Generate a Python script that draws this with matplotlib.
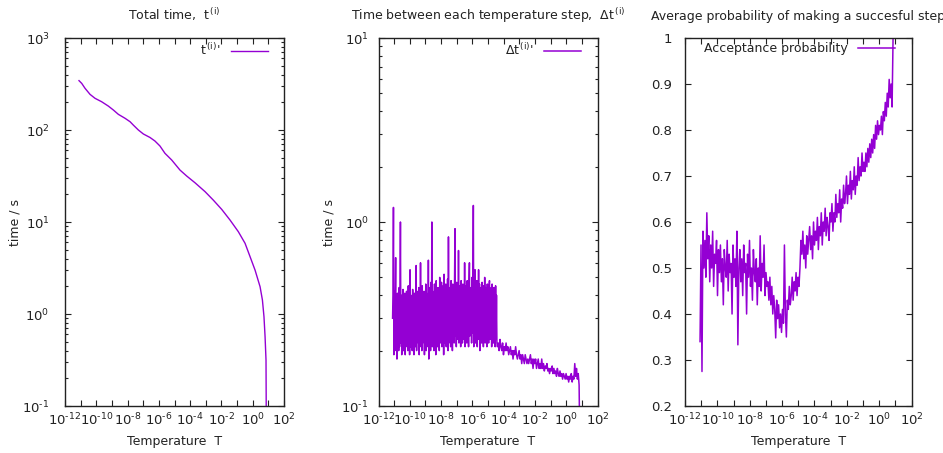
import numpy as np
import matplotlib
matplotlib.use("Agg")
import matplotlib.pyplot as plt
from matplotlib.ticker import LogLocator, FuncFormatter, NullLocator, MultipleLocator, NullFormatter

plt.rcParams['font.family'] = ['DejaVu Sans']
plt.rcParams['font.size'] = 9

# ---------------- data ----------------
# Panel 1: total time t(i) vs temperature (log10 T, seconds)
total_logT = [-11.105, -10.93, -10.72, -10.40, -10.08, -9.66, -9.23, -8.91, -8.59, -8.16,
              -7.84, -7.63, -7.31, -6.99, -6.57, -6.25, -5.93, -5.61, -5.18, -4.65,
              -4.22, -3.69, -3.05, -2.52, -1.98, -1.45, -0.92, -0.49, -0.17, 0.15,
              0.47, 0.62, 0.72, 0.79, 0.85, 0.89]
total_time = [344, 321, 284, 244, 221, 203, 182, 165, 148, 134,
              123, 113, 100, 90.5, 83, 75.9, 67, 55.8, 47.2, 36.7,
              31.6, 26.7, 21.4, 17.3, 13.7, 10.5, 7.85, 5.87, 4.2, 3.0,
              1.98, 1.42, 0.935, 0.566, 0.316, 0.01]

# Panel 2: time between temperature steps (geometric cooling schedule)
# noisy low-temperature part
step_noisy_logT_range = (-11.10, -4.43)
step_time_noisy = [
    0.30, 0.40, 1.20, 0.19, 0.42, 0.22, 0.38, 0.64, 0.20, 0.36,
    0.18, 0.41, 0.23, 0.39, 0.20, 0.44, 0.21, 0.37, 1.00, 0.22,
    0.40, 0.19, 0.35, 0.24, 0.43, 0.20, 0.38, 0.22, 0.41, 0.19,
    0.36, 0.23, 0.42, 0.21, 0.39, 0.20, 0.45, 0.22, 0.37, 0.19,
    0.55, 0.21, 0.40, 0.24, 0.38, 0.20, 0.43, 0.22, 0.36, 0.19,
    0.41, 0.23, 0.39, 0.21, 0.58, 0.20, 0.42, 0.24, 0.37, 0.22,
    0.44, 0.19, 0.40, 0.23, 0.60, 0.21, 0.38, 0.20, 0.45, 0.22,
    0.39, 0.24, 0.42, 0.19, 0.37, 0.22, 0.46, 0.20, 0.41, 0.23,
    0.38, 0.21, 0.62, 0.18, 0.44, 0.22, 0.40, 0.20, 0.47, 0.23,
    1.00, 0.21, 0.42, 0.24, 0.39, 0.20, 0.46, 0.22, 0.41, 0.19,
    0.48, 0.23, 0.40, 0.21, 0.44, 0.25, 0.38, 0.20, 0.50, 0.22,
    0.43, 0.24, 0.47, 0.21, 0.40, 0.23, 0.45, 0.19, 0.52, 0.22,
    0.42, 0.25, 0.46, 0.21, 0.40, 0.23, 0.49, 0.20, 0.83, 0.22,
    0.44, 0.24, 0.41, 0.21, 0.48, 0.25, 0.43, 0.20, 0.46, 0.23,
    0.40, 0.22, 0.50, 0.92, 0.24, 0.44, 0.21, 0.47, 0.26, 0.42,
    0.23, 0.70, 0.22, 0.45, 0.25, 0.41, 0.21, 0.48, 0.24, 0.43,
    0.22, 0.46, 0.26, 0.42, 0.23, 0.60, 0.21, 0.45, 0.25, 0.40,
    0.22, 0.48, 0.27, 0.43, 0.21, 0.46, 0.60, 0.24, 0.44, 0.26,
    0.41, 0.22, 0.50, 0.25, 0.45, 1.23, 0.21, 0.47, 0.24, 0.55,
    0.22, 0.44, 0.26, 0.48, 0.21, 0.42, 0.25, 0.55, 0.23, 0.46,
    0.20, 0.44, 0.26, 0.41, 0.22, 0.47, 0.24, 0.43, 0.21, 0.45,
    0.25, 0.50, 0.22, 0.44, 0.27, 0.42, 0.21, 0.46, 0.24, 0.43,
    0.22, 0.45, 0.48, 0.23, 0.42, 0.26, 0.44, 0.21, 0.46, 0.25,
    0.41, 0.22, 0.44, 0.24, 0.43, 0.21, 0.45, 0.23, 0.40, 0.22,
]
# smoother high-temperature part
step_tail_logT_range = (-4.40, 0.88)
step_time_tail = [
    0.21, 0.22, 0.20, 0.23, 0.21, 0.20, 0.22, 0.19, 0.21, 0.20, 0.22, 0.20,
    0.21, 0.19, 0.20, 0.21, 0.19, 0.20, 0.18, 0.20, 0.19, 0.21, 0.19, 0.18,
    0.19, 0.20, 0.18, 0.19, 0.17, 0.19, 0.18, 0.17, 0.19, 0.18, 0.17, 0.18,
    0.17, 0.18, 0.19, 0.17, 0.18, 0.16, 0.18, 0.17, 0.18, 0.16, 0.17, 0.18,
    0.16, 0.17, 0.16, 0.18, 0.16, 0.17, 0.155, 0.165, 0.16, 0.17, 0.155, 0.16,
    0.15, 0.16, 0.155, 0.165, 0.15, 0.16, 0.15, 0.155, 0.145, 0.16, 0.15, 0.145,
    0.155, 0.145, 0.15, 0.14, 0.15, 0.145, 0.14, 0.15, 0.14, 0.145, 0.135, 0.145,
    0.14, 0.15, 0.135, 0.145, 0.14, 0.17, 0.145, 0.16, 0.14, 0.15, 0.13, 0.05,
]

# Panel 3: acceptance probability (geometric cooling schedule)
acc_logT_range = (-11.07, 0.86)
acceptance = [
    0.34, 0.55, 0.275, 0.58, 0.50, 0.56, 0.48, 0.62, 0.52, 0.57,
    0.47, 0.55, 0.50, 0.58, 0.46, 0.53, 0.51, 0.56, 0.44, 0.54,
    0.49, 0.55, 0.47, 0.52, 0.42, 0.54, 0.50, 0.48, 0.56, 0.45,
    0.53, 0.49, 0.51, 0.40, 0.55, 0.48, 0.52, 0.46, 0.58, 0.333,
    0.50, 0.54, 0.47, 0.52, 0.44, 0.55, 0.49, 0.51, 0.40, 0.53,
    0.48, 0.56, 0.46, 0.50, 0.43, 0.54, 0.49, 0.47, 0.52, 0.42,
    0.50, 0.46, 0.57, 0.45, 0.51, 0.48, 0.55, 0.44, 0.49, 0.46,
    0.47, 0.43, 0.48, 0.42, 0.46, 0.40, 0.44, 0.41, 0.348, 0.43,
    0.39, 0.42, 0.37, 0.40, 0.36, 0.41, 0.38, 0.55, 0.40, 0.35,
    0.43, 0.41, 0.46, 0.42, 0.44, 0.48, 0.43, 0.47, 0.45, 0.49,
    0.44, 0.48, 0.46, 0.50, 0.56, 0.53, 0.58, 0.52, 0.55, 0.50,
    0.57, 0.53, 0.56, 0.59, 0.54, 0.57, 0.52, 0.60, 0.55, 0.58,
    0.56, 0.61, 0.54, 0.59, 0.57, 0.62, 0.55, 0.60, 0.58, 0.63,
    0.57, 0.61, 0.59, 0.56, 0.62, 0.60, 0.64, 0.58, 0.62, 0.60,
    0.66, 0.61, 0.64, 0.62, 0.67, 0.60, 0.65, 0.63, 0.68, 0.64,
    0.66, 0.70, 0.64, 0.68, 0.66, 0.71, 0.65, 0.69, 0.67, 0.72,
    0.66, 0.70, 0.68, 0.74, 0.69, 0.72, 0.70, 0.75, 0.71, 0.73,
    0.71, 0.75, 0.72, 0.76, 0.73, 0.77, 0.74, 0.78, 0.75, 0.79,
    0.76, 0.81, 0.78, 0.82, 0.79, 0.81, 0.80, 0.83, 0.79, 0.84,
    0.82, 0.86, 0.83, 0.88, 0.85, 0.91, 0.87, 0.90, 0.85, 1.00,
]

# ---------------- plotting ----------------
LINE = '#9400D3'
INK = '#222222'
fig = plt.figure(figsize=(9.43, 4.53), dpi=100)
W, H = 943, 453

def add_ax(l, r, t=38, b=406):
    return fig.add_axes([l / W, 1 - b / H, (r - l) / W, (b - t) / H])

ax1 = add_ax(65, 284)
ax2 = add_ax(378.5, 597.5)
ax3 = add_ax(685, 911.5)

def pow_label(e):
    if e < 0:
        return r'$\mathdefault{10^{\text{-}%d}}$' % (-e)
    return r'$\mathdefault{10^{%d}}$' % e

def xfmt(v, pos):
    e = int(round(np.log10(v)))
    if e % 2:
        return ''
    return pow_label(e)

def yfmt(v, pos):
    return pow_label(int(round(np.log10(v))))

for ax in (ax1, ax2, ax3):
    ax.set_xscale('log')
    ax.set_xlim(1e-12, 1e2)
    ax.xaxis.set_major_locator(LogLocator(base=10, numticks=30))
    ax.xaxis.set_minor_locator(NullLocator())
    ax.xaxis.set_major_formatter(FuncFormatter(xfmt))
    ax.tick_params(which='both', direction='in', top=True, right=True,
                   colors=INK, labelcolor=INK)
    ax.tick_params(which='major', length=4.5, width=0.8)
    ax.tick_params(which='minor', length=2.5, width=0.8)
    ax.tick_params(axis='x', pad=4, labelsize=9.5)
    ax.tick_params(axis='y', labelsize=9.5)
    for s in ax.spines.values():
        s.set_color(INK)
        s.set_linewidth(1.0)
    ax.set_xlabel('Temperature  T', labelpad=5, fontsize=9, color=INK)

# Panel 1
T1 = 10 ** np.array(total_logT)
ax1.plot(T1, total_time, color=LINE, lw=1.0, label=r"t$^{\,\mathrm{(i)}}$'")
ax1.set_yscale('log')
ax1.set_ylim(0.1, 1000)
ax1.yaxis.set_major_locator(LogLocator(base=10, numticks=10))
ax1.yaxis.set_minor_locator(LogLocator(base=10, subs=np.arange(2, 10), numticks=10))
ax1.yaxis.set_major_formatter(FuncFormatter(yfmt))
ax1.yaxis.set_minor_formatter(NullFormatter())
ax1.tick_params(axis='y', pad=11)
ax1.set_ylabel('time / s', fontsize=9, color=INK)
ax1.yaxis.set_label_coords(-0.20, 0.5)
ax1.set_title(r'Total time,  t$^{\,\mathrm{(i)}}$', fontsize=9, pad=13, color=INK)

# Panel 2
T2 = np.concatenate([
    np.logspace(step_noisy_logT_range[0], step_noisy_logT_range[1], len(step_time_noisy)),
    np.logspace(step_tail_logT_range[0], step_tail_logT_range[1], len(step_time_tail)),
])
step_time = step_time_noisy + step_time_tail
ax2.plot(T2, step_time, color=LINE, lw=1.1, label=r"$\Delta$t$^{\,\mathrm{(i)}}$'")
ax2.set_yscale('log')
ax2.set_ylim(0.1, 10)
ax2.yaxis.set_major_locator(LogLocator(base=10, numticks=10))
ax2.yaxis.set_minor_locator(LogLocator(base=10, subs=np.arange(2, 10), numticks=10))
ax2.yaxis.set_major_formatter(FuncFormatter(yfmt))
ax2.yaxis.set_minor_formatter(NullFormatter())
ax2.tick_params(axis='y', pad=7)
ax2.set_ylabel('time / s', fontsize=9, color=INK)
ax2.yaxis.set_label_coords(-0.195, 0.5)
ax2.set_title(r'Time between each temperature step,  $\Delta$t$^{\,\mathrm{(i)}}$',
              fontsize=9, pad=13, color=INK)

# Panel 3
T3 = np.logspace(acc_logT_range[0], acc_logT_range[1], len(acceptance))
ax3.plot(T3, acceptance, color=LINE, lw=1.1, label='Acceptance probability')
ax3.set_ylim(0.2, 1.0)
ax3.yaxis.set_major_locator(MultipleLocator(0.1))
ax3.yaxis.set_major_formatter(FuncFormatter(lambda v, p: '%g' % round(v, 2)))
ax3.tick_params(axis='y', pad=9)
ax3.set_title('Average probability of making a succesful step', fontsize=9, pad=13, color=INK)

for ax, width in ((ax1, 219), (ax2, 219), (ax3, 226.5)):
    leg = ax.legend(loc='upper right', markerfirst=False, frameon=False, fontsize=9,
                    handlelength=2.95, handletextpad=0.85, borderaxespad=0.0,
                    borderpad=0.0, bbox_to_anchor=(1 - 16.5 / width, 1 - 4 / 368))
    for t in leg.get_texts():
        t.set_color(INK)

fig.savefig('out.png', dpi=100)
